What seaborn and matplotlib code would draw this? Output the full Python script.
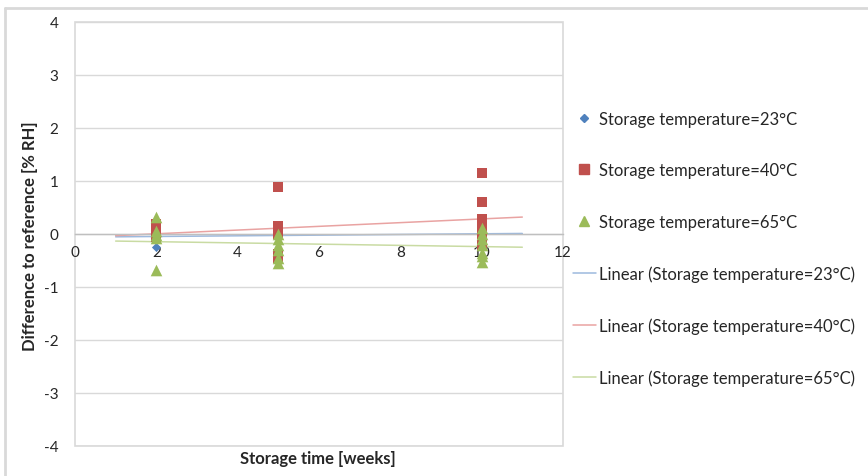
import numpy as np
import pandas as pd
import matplotlib
matplotlib.use("Agg")
import matplotlib.pyplot as plt
from matplotlib.patches import Rectangle
from matplotlib.lines import Line2D
import seaborn as sns

# Data (difference to reference in % RH per storage week)
weeks_23 = [2, 2, 2, 2, 5, 5, 5, 10, 10, 10]
diff_23 = [0.05, 0.0, -0.05, -0.24, 0.05, 0.0, -0.05, 0.05, -0.02, -0.05]

weeks_40 = [2, 2, 2, 2, 5, 5, 5, 5, 5, 5, 10, 10, 10, 10, 10, 10, 10]
diff_40 = [0.18, 0.1, 0.02, -0.05,
           0.88, 0.15, 0.08, 0.0, -0.38, -0.45,
           1.15, 0.60, 0.28, 0.2, 0.1, 0.0, -0.2]

weeks_65 = [2, 2, 2, 2, 2, 5, 5, 5, 5, 5, 5, 10, 10, 10, 10, 10, 10, 10]
diff_65 = [0.32, 0.05, -0.02, -0.07, -0.68,
           0.0, -0.1, -0.2, -0.3, -0.45, -0.55,
           0.12, 0.0, -0.1, -0.2, -0.35, -0.42, -0.52]

labels = ["Storage temperature=23°C", "Storage temperature=40°C", "Storage temperature=65°C"]
marker_colors = ["#4F81BD", "#C0504D", "#9BBB59"]
line_colors = ["#9DB9DE", "#E9A3A2", "#C9DBA3"]
markers = ["D", "s", "^"]
marker_sizes = [22, 62, 70]
trend_x = np.array([1, 11])

sns.set_style("white")
plt.rcParams["font.family"] = ["Lato", "DejaVu Sans"]
plt.rcParams["axes.unicode_minus"] = False

fig = plt.figure(figsize=(8.68, 4.77), dpi=100)
ax = fig.add_axes([0.0864, 0.0629, 0.5622, 0.8889])

series = [(weeks_23, diff_23), (weeks_40, diff_40), (weeks_65, diff_65)]
trend_df = []
for (wx, dy), lab, c, m, s in zip(series, labels, marker_colors, markers, marker_sizes):
    sns.scatterplot(x=wx, y=dy, ax=ax, color=c, marker=m, s=s, linewidth=0,
                    zorder=3, legend=False)
    slope, icpt = np.polyfit(wx, dy, 1)
    trend_df.append(pd.DataFrame({"x": trend_x, "y": icpt + slope * trend_x,
                                  "name": "Linear (" + lab + ")"}))

for df, c in zip(trend_df, line_colors):
    sns.lineplot(data=df, x="x", y="y", ax=ax, color=c, linewidth=1.1, zorder=2)

ax.set_xlim(0, 12)
ax.set_ylim(-4, 4)
ax.set_xticks(range(0, 13, 2))
ax.set_yticks(range(-4, 5))
ax.grid(axis="y", color="#D9D9D9", linewidth=1.0)
ax.set_axisbelow(True)
for side in ["top", "right", "left"]:
    ax.spines[side].set_visible(False)
ax.spines["bottom"].set_position(("data", 0))
ax.spines["bottom"].set_color("#BFBFBF")
ax.spines["bottom"].set_linewidth(1.0)
ax.add_patch(Rectangle((0, 0), 1, 1, transform=ax.transAxes, fill=False,
                       edgecolor="#D9D9D9", linewidth=1.2, clip_on=False, zorder=0))
ax.tick_params(axis="both", length=0, labelsize=11, colors="#262626")
ax.tick_params(axis="y", pad=12)
ax.tick_params(axis="x", pad=8)

ax.set_xlabel("")
ax.set_ylabel("")
fig.text(0.0346, 0.505, "Difference to reference [% RH]", rotation=90,
         ha="center", va="center", fontsize=12, fontweight="bold", color="#262626")
fig.text(0.366, 0.037, "Storage time [weeks]", ha="center", va="center",
         fontsize=12, fontweight="bold", color="#262626")

handles = [Line2D([], [], linestyle="none", marker=m, color=c, markersize=ms)
           for m, c, ms in zip(markers, marker_colors, [4.5, 7.5, 7.5])]
handles += [Line2D([], [], color=c, linewidth=1.1) for c in line_colors]
legend_labels = labels + ["Linear (" + lab + ")" for lab in labels]
fig.legend(handles, legend_labels, loc="upper left", bbox_to_anchor=(0.652, 0.78),
           frameon=False, fontsize=12, labelspacing=2.13, handlelength=1.4,
           handletextpad=0.2, borderaxespad=0, labelcolor="#262626")

# outer chart frame
fig.add_artist(Line2D([0.006, 1.0], [0.981, 0.981], color="#D9D9D9", linewidth=2,
                      transform=fig.transFigure))
fig.add_artist(Line2D([0.006, 0.006], [0.0, 0.981], color="#D9D9D9", linewidth=2,
                      transform=fig.transFigure))

fig.savefig("out.png", dpi=100)
